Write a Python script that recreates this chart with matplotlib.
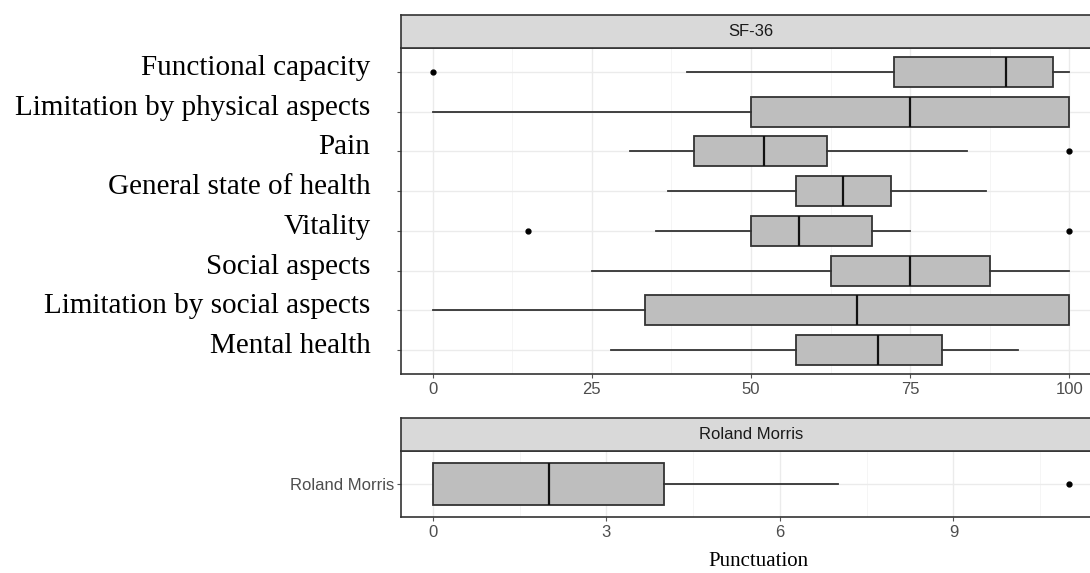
import matplotlib
matplotlib.use("Agg")
import matplotlib.pyplot as plt
import matplotlib.transforms as mtransforms
from matplotlib.ticker import MultipleLocator

# ---------------- data ----------------
sf_categories = ["Functional capacity", "Limitation by physical aspects", "Pain",
                 "General state of health", "Vitality", "Social aspects",
                 "Limitation by social aspects", "Mental health"]
sf_whislo = [40, 0, 31, 37, 35, 25, 0, 28]
sf_q1 = [72.5, 50, 41, 57, 50, 62.5, 33.3, 57]
sf_med = [90, 75, 52, 64.5, 57.5, 75, 66.7, 70]
sf_q3 = [97.5, 100, 62, 72, 69, 87.5, 100, 80]
sf_whishi = [100, 100, 84, 87, 75, 100, 100, 92]
sf_fliers = [[0], [], [100], [], [15, 100], [], [], []]
sf_xticks = [0, 25, 50, 75, 100]

rm_categories = ["Roland Morris"]
rm_whislo = [0]
rm_q1 = [0]
rm_med = [2]
rm_q3 = [4]
rm_whishi = [7]
rm_fliers = [[11]]
rm_xticks = [0, 3, 6, 9]

# ---------------- style ----------------
W, H = 1090, 573
fig = plt.figure(figsize=(W / 100, H / 100), dpi=100)
SERIF = ["Liberation Serif", "DejaVu Serif"]
SANS = ["Liberation Sans", "DejaVu Sans"]
BORDER = "#333333"
GRID = "#EBEBEB"
BOXFILL = "#BEBEBE"
SMALL = 12


def fx(px):
    return px / W


def fy(py):
    return 1 - py / H


def make_stats(whislo, q1, med, q3, whishi, fliers):
    return [dict(whislo=a, q1=b, med=c, q3=d, whishi=e, fliers=f)
            for a, b, c, d, e, f in zip(whislo, q1, med, q3, whishi, fliers)]


def draw_panel(ax, stats, ncat, xticks, xminor, xlim):
    pos = list(range(1, ncat + 1))
    kw = dict(positions=pos, widths=0.75, patch_artist=True, showcaps=False,
              boxprops=dict(facecolor=BOXFILL, edgecolor=BORDER, linewidth=1.3),
              medianprops=dict(color="#111111", linewidth=1.6),
              whiskerprops=dict(color=BORDER, linewidth=1.3),
              flierprops=dict(marker="o", markerfacecolor="black",
                              markeredgecolor="black", markersize=3.5))
    try:
        ax.bxp(stats, orientation="horizontal", **kw)
    except TypeError:
        ax.bxp(stats, vert=False, **kw)
    ax.set_ylim(ncat + 0.6, 0.4)
    ax.set_xlim(*xlim)
    ax.set_xticks(xticks)
    ax.set_xticklabels([str(t) for t in xticks], fontfamily=SANS, fontsize=SMALL,
                       color="#4D4D4D")
    ax.xaxis.set_minor_locator(MultipleLocator(xminor))
    ax.grid(True, which="major", color=GRID, linewidth=1.0, zorder=0)
    ax.grid(True, which="minor", axis="x", color="#F4F4F4", linewidth=0.6, zorder=0)
    ax.set_axisbelow(True)
    ax.tick_params(axis="both", which="major", length=3, width=0.8, color="#555555")
    ax.tick_params(axis="x", which="minor", length=0)
    ax.tick_params(axis="x", pad=3)
    for s in ax.spines.values():
        s.set_color(BORDER)
        s.set_linewidth(1.2)


def strip(left, top, bottom, width, label):
    sax = fig.add_axes([left, fy(bottom), width, (bottom - top) / H])
    sax.set_facecolor("#D9D9D9")
    sax.set_xticks([])
    sax.set_yticks([])
    for s in sax.spines.values():
        s.set_color(BORDER)
        s.set_linewidth(1.2)
    sax.text(0.5, 0.5, label, transform=sax.transAxes,
             ha="center", va="center", fontfamily=SANS, fontsize=SMALL, color="#1A1A1A")
    return sax


left = fx(401)
width = 700 / W

# top panel
ax1 = fig.add_axes([left, fy(374), width, (374 - 48) / H])
draw_panel(ax1, make_stats(sf_whislo, sf_q1, sf_med, sf_q3, sf_whishi, sf_fliers),
           len(sf_categories), sf_xticks, 12.5, (-5, 105))
ax1.set_yticks(range(1, len(sf_categories) + 1))
ax1.set_yticklabels(sf_categories, fontfamily=SERIF, fontsize=21, color="black")
ax1.tick_params(axis="y", pad=19)
off = mtransforms.ScaledTranslation(0, 7 / 100, fig.dpi_scale_trans)
for lab in ax1.get_yticklabels():
    lab.set_transform(lab.get_transform() + off)
strip(left, 15, 48, width, "SF-36")

# bottom panel
ax2 = fig.add_axes([left, fy(517), width, (517 - 451) / H])
draw_panel(ax2, make_stats(rm_whislo, rm_q1, rm_med, rm_q3, rm_whishi, rm_fliers),
           len(rm_categories), rm_xticks, 1.5, (-0.55, 11.55))
ax2.set_yticks([1])
ax2.set_yticklabels(rm_categories, fontfamily=SANS, fontsize=SMALL, color="#4D4D4D")
ax2.tick_params(axis="y", pad=2)
strip(left, 418, 451, width, "Roland Morris")

fig.text(fx(758), fy(561), "Punctuation", ha="center", va="center",
         fontfamily=SERIF, fontsize=15, color="black")

fig.savefig("out.png", dpi=100)
